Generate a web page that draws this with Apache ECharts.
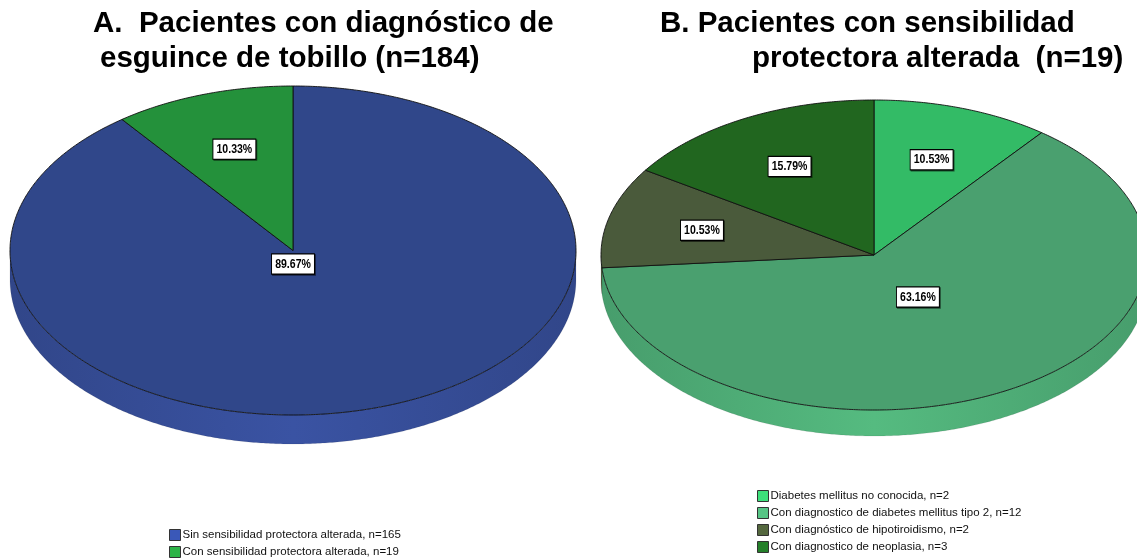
<!DOCTYPE html>
<html><head><meta charset="utf-8">
<script src="https://cdn.jsdelivr.net/npm/echarts@6/dist/echarts.min.js"></script>
<style>html,body{margin:0;padding:0;background:#fff}#c{width:1137px;height:560px}</style>
</head><body><div id="c"></div>
<script>
// ---- DATA ----
const NAMES_A = ['Sin sensibilidad protectora alterada, n=165', 'Con sensibilidad protectora alterada, n=19'];
const COUNTS_A = [165, 19];
const NAMES_B = ['Diabetes mellitus no conocida, n=2', 'Con diagnostico de diabetes mellitus tipo 2, n=12', 'Con diagnóstico de hipotiroidismo, n=2', 'Con diagnostico de neoplasia, n=3'];
const COUNTS_B = [2, 12, 2, 3];
const TITLE_A = ['A.  Pacientes con diagnóstico de', 'esguince de tobillo (n=184)'];
const TITLE_B = ['B. Pacientes con sensibilidad', 'protectora alterada  (n=19)'];

// ---- LAYOUT / STYLE ----
const GEOM_A = {cx: 293, cy: 250.5, rx: 283, ry: 164.5, depth: 29};
const GEOM_B = {cx: 874, cy: 255, rx: 273, ry: 155, depth: 26};
const FACE_A = ['#30478a', '#24913b'];
const SIDE_A = ['#3a53a3', '#2aa344'];
const LEG_A = ['#3a58b8', '#2db347'];
const FACE_B = ['#33bb66', '#4aa06f', '#4a5a3b', '#21661f'];
const SIDE_B = ['#3ccf74', '#55bb80', '#55683f', '#267a25'];
const LEG_B = ['#3de07a', '#57c585', '#55683f', '#25802a'];
const LABEL_A = [{r: 0.082, ang: 180}, {r: 0.65}];
const LABEL_B = [{r: 0.65}, {r: 0.315, ang: 149.3}, {r: 0.65}, {r: 0.65}];
const FONT = '"Liberation Sans", Arial, sans-serif';

function darken(hex, f) {
  const c = echarts.color.parse(hex);
  return 'rgb(' + [0, 1, 2].map(i => Math.round(c[i] * f)).join(',') + ')';
}

function makeRender(counts, idx, g, face, side, lab) {
  return function (params, api) {
    const total = counts.reduce((a, b) => a + b, 0);
    let start = 0;
    for (let i = 0; i < idx; i++) start += counts[i];
    const v = api.value(0);
    const a0 = start / total * 2 * Math.PI, a1 = (start + v) / total * 2 * Math.PI;
    const P = (t, dy) => [g.cx + g.rx * Math.sin(t), g.cy - g.ry * Math.cos(t) + (dy || 0)];
    const children = [];
    const pts = [[g.cx, g.cy]];
    const n = Math.max(2, Math.ceil((a1 - a0) / (Math.PI / 360)));
    for (let k = 0; k <= n; k++) pts.push(P(a0 + (a1 - a0) * k / n));
    children.push({type: 'polygon', z2: 10, shape: {points: pts},
      style: {fill: face[idx], stroke: '#111', lineWidth: 0.9, lineJoin: 'round'}});
    const s0 = Math.max(a0, Math.PI / 2), s1 = Math.min(a1, 1.5 * Math.PI);
    if (s1 > s0) {
      const m = Math.max(2, Math.ceil((s1 - s0) / (Math.PI / 360)));
      const up = [], dn = [];
      for (let k = 0; k <= m; k++) { const t = s0 + (s1 - s0) * k / m; up.push(P(t)); dn.push(P(t, g.depth)); }
      const dark = darken(side[idx], 0.84);
      children.push({type: 'polygon', z2: 1, shape: {points: up.concat(dn.reverse())},
        style: {fill: {type: 'linear', x: g.cx - g.rx, y: 0, x2: g.cx + g.rx, y2: 0, global: true,
          colorStops: [{offset: 0, color: dark}, {offset: 0.5, color: side[idx]}, {offset: 1, color: dark}]},
          stroke: 'rgba(0,0,0,0.15)', lineWidth: 0.6}});
    }
    const L = lab[idx];
    const mid = L.ang != null ? L.ang * Math.PI / 180 : (a0 + a1) / 2;
    children.push({type: 'text', z2: 20, scaleX: 0.78, scaleY: 1,
      x: g.cx + L.r * g.rx * Math.sin(mid), y: g.cy - L.r * g.ry * Math.cos(mid),
      style: {text: (v / total * 100).toFixed(2) + '%', align: 'center', verticalAlign: 'middle',
        fontSize: 13.5, fontWeight: 'bold', fontFamily: FONT,
        fill: '#000', backgroundColor: '#fff', borderColor: '#000', borderWidth: 1.2, padding: [3, 4, 2, 4],
        shadowColor: 'rgba(0,0,0,0.55)', shadowOffsetX: 1, shadowOffsetY: 1, shadowBlur: 0}});
    return {type: 'group', children: children};
  };
}

const series = [];
NAMES_A.forEach((nm, i) => series.push({type: 'custom', name: nm, coordinateSystem: 'none', silent: true,
  data: [[COUNTS_A[i]]], itemStyle: {color: LEG_A[i]},
  renderItem: makeRender(COUNTS_A, i, GEOM_A, FACE_A, SIDE_A, LABEL_A)}));
NAMES_B.forEach((nm, i) => series.push({type: 'custom', name: nm, coordinateSystem: 'none', silent: true,
  data: [[COUNTS_B[i]]], itemStyle: {color: LEG_B[i]},
  renderItem: makeRender(COUNTS_B, i, GEOM_B, FACE_B, SIDE_B, LABEL_B)}));

const titleStyle = {fontSize: 29.5, fontWeight: 'bold', fontFamily: FONT, color: '#000'};
const legendBase = {orient: 'vertical', icon: 'rect', itemWidth: 11, itemHeight: 11, itemGap: 5, padding: 0,
  itemStyle: {borderColor: '#333', borderWidth: 1}, selectedMode: false,
  textStyle: {fontSize: 11.5, fontFamily: FONT, color: '#111', padding: [0, 0, 0, -3]}};

const chart = echarts.init(document.getElementById('c'));
chart.setOption({
  animation: false,
  backgroundColor: '#fff',
  title: [
    {text: TITLE_A[0], left: 93, top: 9, padding: 0, textStyle: titleStyle},
    {text: TITLE_A[1], left: 100, top: 44, padding: 0, textStyle: titleStyle},
    {text: TITLE_B[0], left: 660, top: 9, padding: 0, textStyle: titleStyle},
    {text: TITLE_B[1], left: 752, top: 44, padding: 0, textStyle: titleStyle}
  ],
  legend: [
    Object.assign({}, legendBase, {data: NAMES_A, left: 169, top: 529, height: 40}),
    Object.assign({}, legendBase, {data: NAMES_B, left: 757, top: 490, height: 80})
  ],
  series: series
});
</script></body></html>
